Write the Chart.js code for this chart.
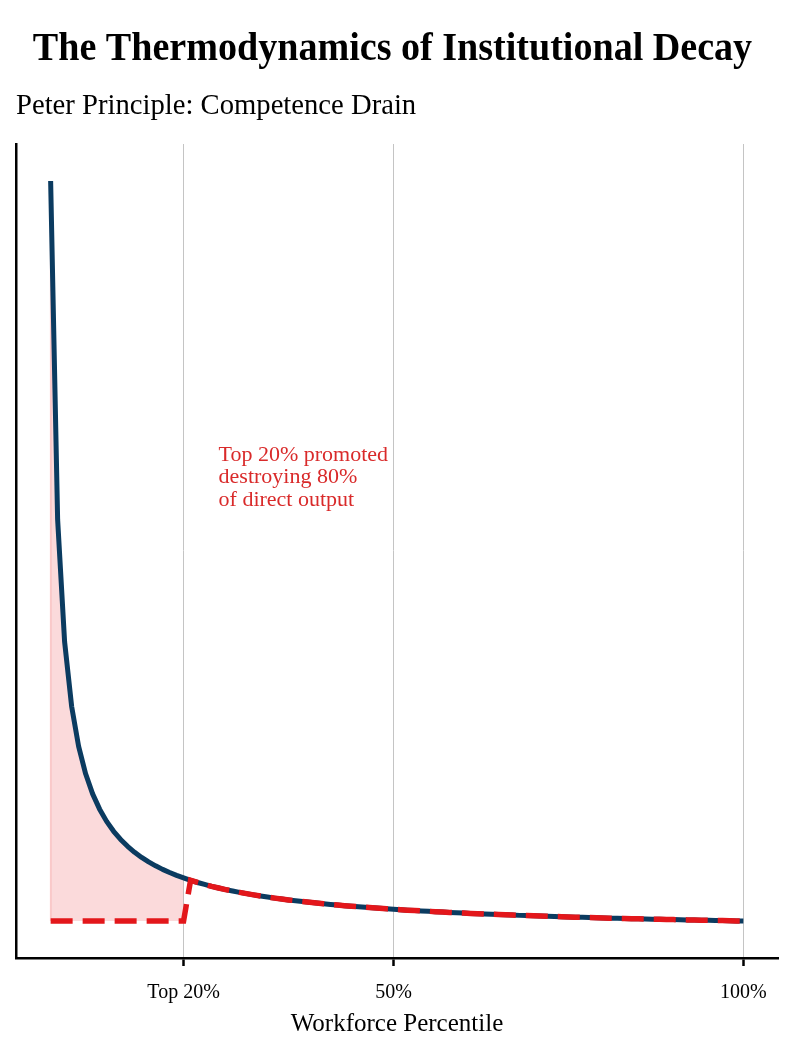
<!DOCTYPE html>
<html>
<head>
<meta charset="utf-8">
<script src="https://cdn.jsdelivr.net/npm/chart.js@4.4.1/dist/chart.umd.min.js"></script>
<style>
    body { margin: 0; background: #fff; }
    canvas { display: block; }
</style>
</head>
<body>
<canvas id="myChart" width="800" height="1060"></canvas>
<script>
const serif = "'Liberation Serif', 'Times New Roman', serif";

// workforce percentile (x) and remaining direct output (y)
const percentile = [
    1, 2, 3, 4, 5, 6, 7, 8, 9, 10, 11, 12, 13, 14, 15, 16, 17, 18, 19, 20,
    21, 22, 23, 24, 25, 26, 27, 28, 29, 30, 31, 32, 33, 34, 35, 36, 37, 38, 39, 40,
    41, 42, 43, 44, 45, 46, 47, 48, 49, 50, 51, 52, 53, 54, 55, 56, 57, 58, 59, 60,
    61, 62, 63, 64, 65, 66, 67, 68, 69, 70, 71, 72, 73, 74, 75, 76, 77, 78, 79, 80,
    81, 82, 83, 84, 85, 86, 87, 88, 89, 90, 91, 92, 93, 94, 95, 96, 97, 98, 99, 100
];
const output = [
    100, 55.10, 38.88, 30.36, 25.06, 21.42, 18.76, 16.73, 15.11, 13.80,
    12.72, 11.80, 11.01, 10.33, 9.74, 9.22, 8.75, 8.33, 7.95, 7.61,
    7.29, 7.01, 6.75, 6.50, 6.28, 6.07, 5.88, 5.70, 5.53, 5.37,
    5.22, 5.08, 4.94, 4.82, 4.70, 4.59, 4.48, 4.38, 4.28, 4.19,
    4.10, 4.02, 3.94, 3.86, 3.79, 3.72, 3.65, 3.58, 3.52, 3.46,
    3.40, 3.34, 3.29, 3.24, 3.19, 3.14, 3.09, 3.04, 3.00, 2.96,
    2.91, 2.87, 2.83, 2.80, 2.76, 2.72, 2.69, 2.65, 2.62, 2.59,
    2.56, 2.53, 2.50, 2.47, 2.44, 2.41, 2.39, 2.36, 2.33, 2.31,
    2.28, 2.26, 2.24, 2.21, 2.19, 2.17, 2.15, 2.13, 2.11, 2.09,
    2.07, 2.05, 2.03, 2.01, 1.99, 1.97, 1.96, 1.94, 1.92, 1.91
];
const promotedCutoff = 20;     // top 20% promoted
const promotedFloor = 1.91;    // their output after promotion

const tickValues = [20, 50, 100];
const tickLabels = ['Top 20%', '50%', '100%'];
const noteLines = ['Top 20% promoted', 'destroying 80%', 'of direct output'];
const notePos = { x: 25, y: 62.9 };

const curve = percentile.map((p, i) => ({ x: p, y: output[i] }));
const afterPromotion = percentile.map((p, i) => ({ x: p, y: p <= promotedCutoff ? promotedFloor : output[i] }));
const lostArea = curve.filter(pt => pt.x <= promotedCutoff);
const lostEdge = [{ x: percentile[0], y: promotedFloor }, { x: percentile[0], y: output[0] }];

// title + subtitle, drawn by hand so the face can be a bit condensed like the original
const headingPlugin = {
    id: 'heading',
    afterDraw(chart) {
        const c = chart.ctx;
        c.save();
        c.fillStyle = '#000';
        c.textBaseline = 'alphabetic';

        c.save();
        c.font = 'bold 40px ' + serif;
        c.textAlign = 'center';
        c.translate(392.5, 60);
        c.scale(0.952, 1);
        c.fillText('The Thermodynamics of Institutional Decay', 0, 0);
        c.restore();

        c.save();
        c.font = '30px ' + serif;
        c.textAlign = 'left';
        c.translate(16, 114);
        c.scale(0.955, 1);
        c.fillText('Peter Principle: Competence Drain', 0, 0);
        c.restore();

        c.restore();
    }
};

const notePlugin = {
    id: 'note',
    afterDatasetsDraw(chart) {
        const c = chart.ctx;
        const x = chart.scales.x.getPixelForValue(notePos.x);
        const y = chart.scales.y.getPixelForValue(notePos.y);
        c.save();
        c.font = '22px ' + serif;
        c.fillStyle = '#d92a2a';
        c.textAlign = 'left';
        c.textBaseline = 'alphabetic';
        noteLines.forEach((line, i) => c.fillText(line, x, y + i * 22.4));
        c.restore();
    }
};

const chart = new Chart(document.getElementById('myChart'), {
    type: 'line',
    data: {
        datasets: [
            {
                data: afterPromotion,
                borderColor: '#e3171b',
                borderWidth: 5.5,
                borderDash: [22, 10],
                pointRadius: 0,
                fill: false,
                order: 0
            },
            {
                data: curve,
                borderColor: '#0b3b60',
                borderWidth: 5,
                borderJoinStyle: 'round',
                pointRadius: 0,
                fill: false,
                order: 1
            },
            {
                data: lostArea,
                borderWidth: 0,
                backgroundColor: 'rgba(228, 26, 28, 0.16)',
                pointRadius: 0,
                fill: { value: promotedFloor },
                order: 2
            },
            {
                data: lostEdge,
                borderColor: 'rgba(228, 26, 28, 0.22)',
                borderWidth: 1.5,
                pointRadius: 0,
                fill: false,
                order: 3
            }
        ]
    },
    options: {
        responsive: false,
        animation: false,
        layout: { padding: { top: 144, left: 16, right: 22, bottom: 5 } },
        plugins: {
            legend: { display: false },
            tooltip: { enabled: false }
        },
        scales: {
            x: {
                type: 'linear',
                min: -3.95,
                max: 104.95,
                afterBuildTicks: (axis) => { axis.ticks = tickValues.map(v => ({ value: v })); },
                ticks: {
                    color: '#000',
                    font: { family: serif, size: 20 },
                    padding: 15,
                    maxRotation: 0,
                    callback: (v) => tickLabels[tickValues.indexOf(v)]
                },
                grid: {
                    color: '#c4c4c4',
                    lineWidth: 1,
                    tickColor: '#000',
                    tickWidth: 2.5,
                    tickLength: 8
                },
                border: { color: '#000', width: 2.5 },
                title: {
                    display: true,
                    text: 'Workforce Percentile',
                    color: '#000',
                    font: { family: serif, size: 25 },
                    padding: { top: -11, bottom: 16 }
                }
            },
            y: {
                min: -3.0,
                max: 104.9,
                ticks: { display: false },
                grid: { display: false, drawTicks: false },
                border: { color: '#000', width: 2.5 }
            }
        }
    },
    plugins: [notePlugin, headingPlugin]
});
</script>
</body>
</html>
